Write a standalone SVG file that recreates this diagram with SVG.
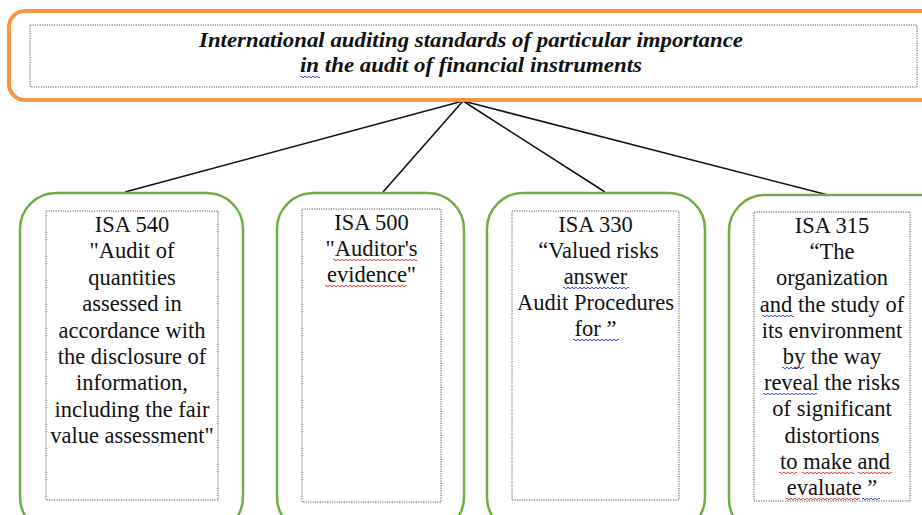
<svg xmlns="http://www.w3.org/2000/svg" width="922" height="515" viewBox="0 0 922 515">
<style>
.box{fill:#fff;stroke:#70AD47;stroke-width:2.5}
.top{fill:#fff;stroke:#F79646;stroke-width:4}
.inner{fill:none;stroke:#444;stroke-width:0.9;stroke-dasharray:1.2 1.2}
.conn{stroke:#111;stroke-width:1.6;fill:none}
.wr{fill:none;stroke:#E02020;stroke-width:0.9}
.wb{fill:none;stroke:#2030E0;stroke-width:0.9}
</style>
<rect width="922" height="515" fill="#fff"/>

<g id="connectors">
<line class="conn" x1="463" y1="101" x2="125" y2="192"/>
<line class="conn" x1="463" y1="101" x2="383" y2="192"/>
<line class="conn" x1="463" y1="101" x2="605" y2="192"/>
<line class="conn" x1="463" y1="101" x2="828" y2="195"/>
</g>

<g id="title">
<rect class="top" x="9" y="11" width="930" height="89" rx="16"/>
<rect class="inner" x="30" y="25" width="887" height="62"/>
<text font-family="Liberation Serif" font-size="20.5" font-weight="bold" font-style="italic" fill="#111" text-anchor="middle" x="471" y="47" textLength="544" lengthAdjust="spacingAndGlyphs">International auditing standards of particular importance</text>
<text font-family="Liberation Serif" font-size="20.5" font-weight="bold" font-style="italic" fill="#111" text-anchor="middle" x="471" y="72" textLength="342" lengthAdjust="spacingAndGlyphs">in the audit of financial instruments</text>
<path class="wb" d="M300,77q1,-1.5 2,0t2,0t2,0t2,0t2,0t2,0t2,0t2,0t2,0t2,0"/>
</g>

<g id="isa540" font-family="Liberation Serif" font-size="22.5" fill="#111" text-anchor="middle">
<rect class="box" x="20" y="193" width="223" height="340" rx="36"/>
<rect class="inner" x="46" y="211" width="172" height="289"/>
<text font-family="Liberation Serif" x="132" y="232">ISA 540</text>
<text font-family="Liberation Serif" x="132" y="258.4">"Audit of</text>
<text font-family="Liberation Serif" x="132" y="284.8">quantities</text>
<text font-family="Liberation Serif" x="132" y="311.2">assessed in</text>
<text font-family="Liberation Serif" x="132" y="337.6">accordance with</text>
<text font-family="Liberation Serif" x="132" y="364">the disclosure of</text>
<text font-family="Liberation Serif" x="132" y="390.4">information,</text>
<text font-family="Liberation Serif" x="132" y="416.8">including the fair</text>
<text font-family="Liberation Serif" x="132" y="443.2">value assessment"</text>
</g>

<g id="isa500" font-family="Liberation Serif" font-size="22.5" fill="#111" text-anchor="middle">
<rect class="box" x="277" y="193" width="187" height="340" rx="36"/>
<rect class="inner" x="302" y="209" width="139" height="293"/>
<text font-family="Liberation Serif" x="371.5" y="230">ISA 500</text>
<text font-family="Liberation Serif" x="371.5" y="256">"Auditor's</text>
<text font-family="Liberation Serif" x="371.5" y="282">evidence"</text>
<path class="wr" d="M333,260q1,-1.5 2,0t2,0t2,0t2,0t2,0t2,0t2,0t2,0t2,0t2,0t2,0t2,0t2,0t2,0t2,0t2,0t2,0t2,0t2,0t2,0t2,0t2,0t2,0t2,0t2,0t2,0t2,0t2,0t2,0t2,0t2,0t2,0t2,0t2,0t2,0t2,0t2,0t2,0t2,0t2,0t2,0t2,0"/>
<path class="wr" d="M325,286q1,-1.5 2,0t2,0t2,0t2,0t2,0t2,0t2,0t2,0t2,0t2,0t2,0t2,0t2,0t2,0t2,0t2,0t2,0t2,0t2,0t2,0t2,0t2,0t2,0t2,0t2,0t2,0t2,0t2,0t2,0t2,0t2,0t2,0t2,0t2,0t2,0t2,0t2,0t2,0t2,0t2,0t2,0"/>
</g>

<g id="isa330" font-family="Liberation Serif" font-size="22.5" fill="#111" text-anchor="middle">
<rect class="box" x="487" y="193" width="218" height="340" rx="36"/>
<rect class="inner" x="512" y="211" width="167" height="289"/>
<text font-family="Liberation Serif" x="595.5" y="232">ISA 330</text>
<text font-family="Liberation Serif" x="598.5" y="258">&#8220;Valued risks</text>
<text font-family="Liberation Serif" x="595.5" y="284">answer</text>
<text font-family="Liberation Serif" x="595.5" y="310">Audit Procedures</text>
<text font-family="Liberation Serif" x="595.5" y="336">for &#8221;</text>
<path class="wb" d="M563,288q1,-1.5 2,0t2,0t2,0t2,0t2,0t2,0t2,0t2,0t2,0t2,0t2,0t2,0t2,0t2,0t2,0t2,0t2,0t2,0t2,0t2,0t2,0t2,0t2,0t2,0t2,0t2,0t2,0t2,0t2,0t2,0t2,0t2,0t2,0"/>
<path class="wb" d="M573,340q1,-1.5 2,0t2,0t2,0t2,0t2,0t2,0t2,0t2,0t2,0t2,0t2,0t2,0t2,0t2,0t2,0t2,0t2,0t2,0t2,0t2,0t2,0t2,0t2,0"/>
</g>

<g id="isa315" font-family="Liberation Serif" font-size="22.5" fill="#111" text-anchor="middle">
<rect class="box" x="729" y="195" width="230" height="340" rx="36"/>
<rect class="inner" x="754" y="212" width="156" height="289"/>
<text font-family="Liberation Serif" x="832" y="233">ISA 315</text>
<text font-family="Liberation Serif" x="832" y="259.2">&#8220;The</text>
<text font-family="Liberation Serif" x="832" y="285.4">organization</text>
<text font-family="Liberation Serif" x="832" y="311.6">and the study of</text>
<text font-family="Liberation Serif" x="832" y="337.8">its environment</text>
<text font-family="Liberation Serif" x="832" y="364">by the way</text>
<text font-family="Liberation Serif" x="832" y="390.2">reveal the risks</text>
<text font-family="Liberation Serif" x="832" y="416.4">of significant</text>
<text font-family="Liberation Serif" x="832" y="442.6">distortions</text>
<text font-family="Liberation Serif" x="835" y="468.8">to make and</text>
<text font-family="Liberation Serif" x="832" y="495">evaluate &#8221;</text>
<path class="wb" d="M762,316q1,-1.5 2,0t2,0t2,0t2,0t2,0t2,0t2,0t2,0t2,0t2,0t2,0t2,0t2,0t2,0t2,0t2,0"/>
<path class="wb" d="M782,368q1,-1.5 2,0t2,0t2,0t2,0t2,0t2,0t2,0t2,0t2,0t2,0t2,0"/>
<path class="wb" d="M763,394q1,-1.5 2,0t2,0t2,0t2,0t2,0t2,0t2,0t2,0t2,0t2,0t2,0t2,0t2,0t2,0t2,0t2,0t2,0t2,0t2,0t2,0t2,0t2,0t2,0t2,0t2,0t2,0t2,0"/>
<path class="wr" d="M779,473q1,-1.5 2,0t2,0t2,0t2,0t2,0t2,0t2,0t2,0t2,0"/>
<path class="wr" d="M802,473q1,-1.5 2,0t2,0t2,0t2,0t2,0t2,0t2,0t2,0t2,0t2,0t2,0t2,0t2,0t2,0t2,0t2,0t2,0t2,0t2,0t2,0t2,0t2,0t2,0t2,0t2,0t2,0"/>
<path class="wr" d="M858,473q1,-1.5 2,0t2,0t2,0t2,0t2,0t2,0t2,0t2,0t2,0t2,0t2,0t2,0t2,0t2,0t2,0t2,0t2,0"/>
<path class="wr" d="M786,499q1,-1.5 2,0t2,0t2,0t2,0t2,0t2,0t2,0t2,0t2,0t2,0t2,0t2,0t2,0t2,0t2,0t2,0t2,0t2,0t2,0t2,0t2,0t2,0t2,0t2,0t2,0t2,0t2,0t2,0t2,0t2,0t2,0t2,0t2,0t2,0t2,0t2,0t2,0"/>
<path class="wb" d="M862,499q1,-1.5 2,0t2,0t2,0t2,0t2,0t2,0t2,0t2,0t2,0"/>
</g>
</svg>
